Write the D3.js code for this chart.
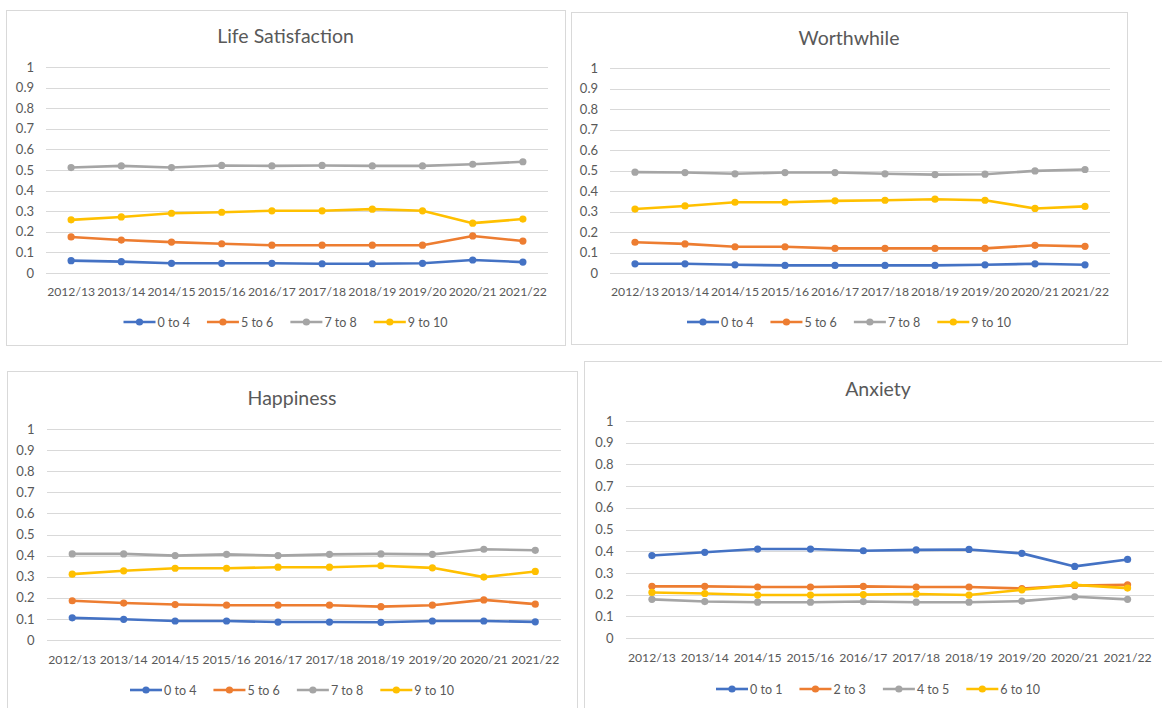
<!DOCTYPE html>
<html>
<head>
<meta charset="utf-8">
<script src="https://cdn.jsdelivr.net/npm/d3@7"></script>
<style>
  body { margin: 0; background: #fff; }
  svg { display: block; font-family: Lato, "Open Sans", sans-serif; }
</style>
</head>
<body>
<svg id="chart" width="1162" height="708"></svg>
<script>
// Survey years (x categories)
const years = ["2012/13", "2013/14", "2014/15", "2015/16", "2016/17",
               "2017/18", "2018/19", "2019/20", "2020/21", "2021/22"];
const yTicks = [0, 0.1, 0.2, 0.3, 0.4, 0.5, 0.6, 0.7, 0.8, 0.9, 1];

// Score bands
const wellbeingBands = ["0 to 4", "5 to 6", "7 to 8", "9 to 10"];
const anxietyBands = ["0 to 1", "2 to 3", "4 to 5", "6 to 10"];
const bandColors = ["#4472C4", "#ED7D31", "#A5A5A5", "#FFC000"];

// Life satisfaction: share of respondents in each band
const lifeSat0to4  = [0.060, 0.055, 0.047, 0.047, 0.047, 0.045, 0.045, 0.047, 0.063, 0.053];
const lifeSat5to6  = [0.175, 0.160, 0.150, 0.142, 0.135, 0.135, 0.135, 0.135, 0.180, 0.155];
const lifeSat7to8  = [0.512, 0.520, 0.512, 0.522, 0.520, 0.522, 0.520, 0.520, 0.528, 0.540];
const lifeSat9to10 = [0.258, 0.272, 0.290, 0.295, 0.302, 0.302, 0.310, 0.302, 0.242, 0.262];

// Worthwhile
const worth0to4  = [0.045, 0.045, 0.040, 0.037, 0.037, 0.037, 0.037, 0.040, 0.045, 0.040];
const worth5to6  = [0.150, 0.142, 0.128, 0.128, 0.120, 0.120, 0.120, 0.120, 0.135, 0.130];
const worth7to8  = [0.492, 0.490, 0.484, 0.490, 0.490, 0.484, 0.480, 0.482, 0.498, 0.505];
const worth9to10 = [0.312, 0.327, 0.345, 0.345, 0.352, 0.355, 0.360, 0.355, 0.315, 0.325];

// Happiness
const happy0to4  = [0.105, 0.098, 0.090, 0.090, 0.085, 0.085, 0.084, 0.090, 0.090, 0.086];
const happy5to6  = [0.186, 0.175, 0.168, 0.165, 0.165, 0.165, 0.158, 0.165, 0.190, 0.170];
const happy7to8  = [0.408, 0.408, 0.400, 0.406, 0.400, 0.406, 0.408, 0.406, 0.430, 0.425];
const happy9to10 = [0.312, 0.328, 0.340, 0.340, 0.345, 0.345, 0.352, 0.342, 0.298, 0.325];

// Anxiety
const anx0to1  = [0.380, 0.395, 0.410, 0.410, 0.402, 0.406, 0.408, 0.390, 0.330, 0.362];
const anx2to3  = [0.238, 0.238, 0.235, 0.235, 0.238, 0.235, 0.235, 0.228, 0.242, 0.245];
const anx4to5  = [0.178, 0.168, 0.165, 0.165, 0.168, 0.165, 0.165, 0.170, 0.190, 0.178];
const anx6to10 = [0.210, 0.205, 0.198, 0.198, 0.200, 0.203, 0.198, 0.222, 0.245, 0.230];

const panels = [
  { title: "Life Satisfaction", bands: wellbeingBands,
    series: [lifeSat0to4, lifeSat5to6, lifeSat7to8, lifeSat9to10],
    box: [6, 10, 565, 345], plot: [46, 67, 548, 273], titleY: 35, xLabY: 292, legY: 322 },
  { title: "Worthwhile", bands: wellbeingBands,
    series: [worth0to4, worth5to6, worth7to8, worth9to10],
    box: [571, 12, 1127, 344], plot: [610, 68, 1110, 273], titleY: 37, xLabY: 292, legY: 322 },
  { title: "Happiness", bands: wellbeingBands,
    series: [happy0to4, happy5to6, happy7to8, happy9to10],
    box: [7, 371, 577, 730], plot: [46.5, 429, 561, 640], titleY: 397, xLabY: 660, legY: 690 },
  { title: "Anxiety", bands: anxietyBands,
    series: [anx0to1, anx2to3, anx4to5, anx6to10],
    box: [584, 361, 1172, 730], plot: [625.5, 421, 1154, 638], titleY: 388, xLabY: 658, legY: 689 }
];

const svg = d3.select("#chart");
const textColor = "#595959";
const gridColor = "#d9d9d9";

panels.forEach(p => {
  const [bx0, by0, bx1, by1] = p.box;
  const [px0, py0, px1, py1] = p.plot;
  const g = svg.append("g");

  // Chart frame
  g.append("rect")
    .attr("x", bx0 + 0.5).attr("y", by0 + 0.5)
    .attr("width", bx1 - bx0).attr("height", by1 - by0)
    .attr("fill", "#fff").attr("stroke", gridColor).attr("stroke-width", 1);

  // Title
  g.append("text")
    .attr("x", (bx0 + bx1) / 2).attr("y", p.titleY)
    .attr("text-anchor", "middle").attr("dominant-baseline", "central")
    .attr("font-size", 19.5).attr("fill", textColor)
    .text(p.title);

  const x = d3.scaleBand().domain(years).range([px0, px1]);
  const y = d3.scaleLinear().domain([0, 1]).range([py1, py0]);
  const cx = d => x(d) + x.bandwidth() / 2;

  // Gridlines and y tick labels
  const yAxis = d3.axisLeft(y).tickValues(yTicks).tickSize(-(px1 - px0))
    .tickPadding(12).tickFormat(d3.format("~g"));
  const ya = g.append("g").attr("transform", `translate(${px0},0)`).call(yAxis);
  ya.select(".domain").remove();
  ya.selectAll(".tick line").attr("stroke", gridColor).attr("stroke-width", 1)
    .attr("shape-rendering", "crispEdges");
  ya.selectAll(".tick text").attr("fill", textColor).attr("font-size", 13)
    .attr("font-family", "Lato, 'Open Sans', sans-serif");

  // Category labels
  const xAxis = d3.axisBottom(x).tickSize(0).tickPadding(0);
  const xa = g.append("g").attr("transform", `translate(0,${p.xLabY})`).call(xAxis);
  xa.select(".domain").remove();
  xa.selectAll(".tick text").attr("fill", textColor).attr("font-size", 12.2)
    .attr("font-family", "Lato, 'Open Sans', sans-serif")
    .attr("dy", "0.35em").attr("y", 0);

  // Series lines and markers
  const line = d3.line().x((d, i) => cx(years[i])).y(d => y(d));
  p.series.forEach((vals, si) => {
    const sg = g.append("g");
    sg.append("path").datum(vals)
      .attr("d", line).attr("fill", "none")
      .attr("stroke", bandColors[si]).attr("stroke-width", 2.6)
      .attr("stroke-linejoin", "round");
    sg.selectAll("circle").data(vals).join("circle")
      .attr("cx", (d, i) => cx(years[i])).attr("cy", d => y(d))
      .attr("r", 3.6).attr("fill", bandColors[si]);
  });

  // Legend, centred in the frame
  const lg = g.append("g");
  const lineLen = 32, gap = 2, itemGap = 17;
  let offset = 0;
  p.bands.forEach((b, i) => {
    const it = lg.append("g");
    it.append("line").attr("x1", 0).attr("x2", lineLen).attr("y1", 0).attr("y2", 0)
      .attr("stroke", bandColors[i]).attr("stroke-width", 2.6);
    it.append("circle").attr("cx", lineLen / 2).attr("cy", 0).attr("r", 3.6)
      .attr("fill", bandColors[i]);
    const t = it.append("text").attr("x", lineLen + gap).attr("y", 0)
      .attr("dominant-baseline", "central").attr("font-size", 12.5)
      .attr("fill", textColor).text(b);
    const w = lineLen + gap + t.node().getComputedTextLength();
    it.attr("transform", `translate(${offset},0)`);
    offset += w + itemGap;
  });
  const total = offset - itemGap;
  lg.attr("transform", `translate(${(bx0 + bx1) / 2 - total / 2},${p.legY})`);
});
</script>
</body>
</html>
